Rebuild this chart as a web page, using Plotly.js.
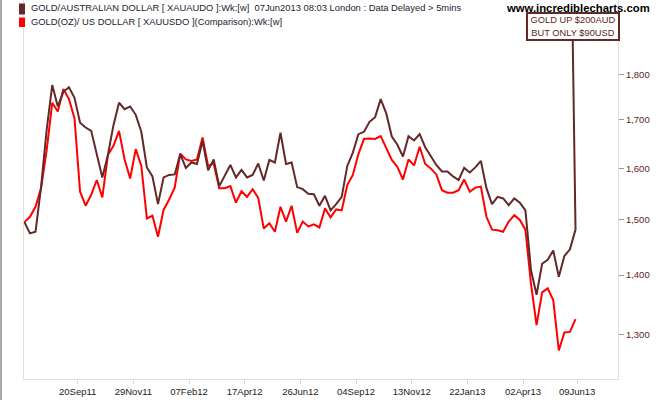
<!DOCTYPE html>
<html>
<head>
<meta charset="utf-8">
<script src="https://cdn.plot.ly/plotly-3.0.1.min.js"></script>
<style>
  html, body { margin: 0; padding: 0; background: #fff; }
  #chart { width: 660px; height: 400px; }
  #edge { position: absolute; left: 0; top: 0; width: 2px; height: 400px; background: #a8a8a8; }
</style>
</head>
<body>
<div id="chart"></div>
<div id="edge"></div>
<script>
// Weekly closes (Fridays)
const dates = [
  '2011-07-15','2011-07-22','2011-07-29','2011-08-05','2011-08-12','2011-08-19','2011-08-26','2011-09-02','2011-09-09','2011-09-16',
  '2011-09-23','2011-09-30','2011-10-07','2011-10-14','2011-10-21','2011-10-28','2011-11-04','2011-11-11','2011-11-18','2011-11-25',
  '2011-12-02','2011-12-09','2011-12-16','2011-12-23','2011-12-30','2012-01-06','2012-01-13','2012-01-20','2012-01-27','2012-02-03',
  '2012-02-10','2012-02-17','2012-02-24','2012-03-02','2012-03-09','2012-03-16','2012-03-23','2012-03-30','2012-04-06','2012-04-13',
  '2012-04-20','2012-04-27','2012-05-04','2012-05-11','2012-05-18','2012-05-25','2012-06-01','2012-06-08','2012-06-15','2012-06-22',
  '2012-06-29','2012-07-06','2012-07-13','2012-07-20','2012-07-27','2012-08-03','2012-08-10','2012-08-17','2012-08-24','2012-08-31',
  '2012-09-07','2012-09-14','2012-09-21','2012-09-28','2012-10-05','2012-10-12','2012-10-19','2012-10-26','2012-11-02','2012-11-09',
  '2012-11-16','2012-11-23','2012-11-30','2012-12-07','2012-12-14','2012-12-21','2012-12-28','2013-01-04','2013-01-11','2013-01-18',
  '2013-01-25','2013-02-01','2013-02-08','2013-02-15','2013-02-22','2013-03-01','2013-03-08','2013-03-15','2013-03-22','2013-03-29',
  '2013-04-05','2013-04-12','2013-04-19','2013-04-26','2013-05-03','2013-05-10','2013-05-17','2013-05-24','2013-05-31','2013-06-07'
];

// GOLD / AUSTRALIAN DOLLAR (XAUAUDO)
const goldAud = [
  1496,1475,1478,1564,1679,1776,1729,1761,1771,1748,
  1694,1684,1677,1627,1582,1627,1689,1737,1723,1729,
  1711,1675,1602,1584,1530,1582,1587,1588,1629,1601,
  1612,1609,1656,1596,1618,1565,1585,1607,1582,1597,
  1582,1587,1610,1576,1617,1612,1673,1609,1612,1563,
  1559,1550,1549,1527,1546,1518,1530,1544,1605,1632,
  1670,1675,1696,1706,1745,1714,1665,1648,1624,1666,
  1657,1670,1643,1625,1607,1594,1594,1584,1577,1601,
  1592,1602,1615,1561,1530,1544,1541,1528,1541,1533,
  1518,1409,1366,1420,1427,1444,1397,1434,1446,1482
];

// GOLD(OZ) / US DOLLAR (XAUUSDO) - comparison, rebased to the first value
const goldUsd = [
  1496,1506,1525,1561,1637,1737,1718,1767,1745,1704,
  1554,1527,1548,1577,1543,1627,1646,1677,1618,1580,
  1639,1605,1503,1508,1469,1519,1539,1562,1630,1618,
  1615,1618,1663,1605,1610,1561,1561,1565,1533,1555,
  1544,1559,1542,1484,1494,1478,1525,1497,1527,1476,
  1497,1488,1492,1486,1522,1505,1520,1518,1567,1587,
  1629,1660,1661,1660,1666,1643,1617,1603,1578,1618,
  1606,1644,1609,1600,1588,1557,1552,1552,1557,1578,
  1554,1562,1564,1506,1482,1481,1478,1497,1509,1500,
  1482,1385,1315,1370,1377,1357,1274,1303,1304,1325
];

const xTickVals = ['2011-09-20','2011-11-29','2012-02-07','2012-04-17','2012-06-26','2012-09-04','2012-11-13','2013-01-22','2013-04-02','2013-06-09'];
const xTickText = ['20Sep11','29Nov11','07Feb12','17Apr12','26Jun12','04Sep12','13Nov12','22Jan13','02Apr13','09Jun13'];
const yTickVals = [1300,1400,1500,1600,1700,1800];
const yTickText = ['1,300','1,400','1,500','1,600','1,700','1,800'];

const legendTexts = [
  'GOLD/AUSTRALIAN DOLLAR [ XAUAUDO ]:Wk:[w]  07Jun2013 08:03 London : Data Delayed > 5mins',
  'GOLD(OZ)/ US DOLLAR [ XAUUSDO ](Comparison):Wk:[w]'
];
const noteText = 'GOLD UP $200AUD<br>BUT ONLY $90USD';
const siteText = 'www.incrediblecharts.com';

const MAROON = '#632828';
const RED = '#ff0000';
const FONT = "'Liberation Sans', Arial, sans-serif";

const traces = [
  { x: dates, y: goldUsd, type: 'scatter', mode: 'lines', name: legendTexts[1],
    line: { color: RED, width: 2 }, hoverinfo: 'skip' },
  { x: dates, y: goldAud, type: 'scatter', mode: 'lines', name: legendTexts[0],
    line: { color: MAROON, width: 2 }, hoverinfo: 'skip' }
];

const n = dates.length;
const layout = {
  width: 660, height: 400,
  margin: { l: 24, r: 42, t: 0, b: 21, pad: 0 },
  paper_bgcolor: '#ffffff', plot_bgcolor: '#ffffff',
  showlegend: false,
  font: { family: FONT, size: 9.5, color: '#222' },
  xaxis: {
    type: 'date',
    range: ['2011-07-14 12:00', '2013-07-30 10:00'],
    tickvals: xTickVals, ticktext: xTickText,
    ticks: 'outside', ticklen: 4, tickcolor: '#d8d8d8', tickwidth: 1,
    showline: true, linecolor: '#e0e0e0', linewidth: 1,
    showgrid: false, zeroline: false,
    tickfont: { family: FONT, size: 9.5, color: '#222' }
  },
  yaxis: {
    type: 'log', side: 'right',
    range: [3.089675, 3.295653],
    tickvals: yTickVals, ticktext: yTickText,
    ticks: 'outside', ticklen: 5, tickcolor: '#999', tickwidth: 1,
    showline: true, linecolor: '#e0e0e0', linewidth: 1, mirror: true,
    showgrid: false, zeroline: false,
    tickfont: { family: FONT, size: 9.5, color: '#5a1e1e' }
  },
  shapes: [
    { type: 'rect', xref: 'paper', yref: 'paper', x0: -0.0084, x1: 0.0017, y0: 0.9617, y1: 0.9908,
      fillcolor: MAROON, line: { width: 0 } },
    { type: 'rect', xref: 'paper', yref: 'paper', x0: -0.0084, x1: 0.0017, y0: 0.9288, y1: 0.9538,
      fillcolor: RED, line: { width: 0 } }
  ],
  annotations: [
    { xref: 'paper', yref: 'paper', x: 0.0084, y: 0.9815, xanchor: 'left', yanchor: 'middle',
      text: legendTexts[0], showarrow: false, font: { family: FONT, size: 9.4, color: '#1c1c30' } },
    { xref: 'paper', yref: 'paper', x: 0.0084, y: 0.942, xanchor: 'left', yanchor: 'middle',
      text: legendTexts[1], showarrow: false, font: { family: FONT, size: 9.4, color: '#1c1c30' } },
    { xref: 'paper', yref: 'paper', x: 1.0572, y: 0.978, xanchor: 'right', yanchor: 'middle',
      text: '<b>' + siteText + '</b>', showarrow: false,
      font: { family: FONT, size: 11.3, color: '#000' } },
    { x: dates[n - 1], y: Math.log10(goldAud[n - 1]), xref: 'x', yref: 'y',
      text: noteText, showarrow: true, arrowhead: 0, arrowwidth: 2, arrowcolor: MAROON,
      ax: -3, ay: -203, axref: 'pixel', ayref: 'pixel',
      bordercolor: MAROON, borderwidth: 2, borderpad: 1, bgcolor: '#ffffff',
      width: 88, height: 23, align: 'center',
      font: { family: FONT, size: 9.3, color: '#5a1e1e' } }
  ]
};

Plotly.newPlot('chart', traces, layout, { displayModeBar: false, staticPlot: true });
</script>
</body>
</html>
